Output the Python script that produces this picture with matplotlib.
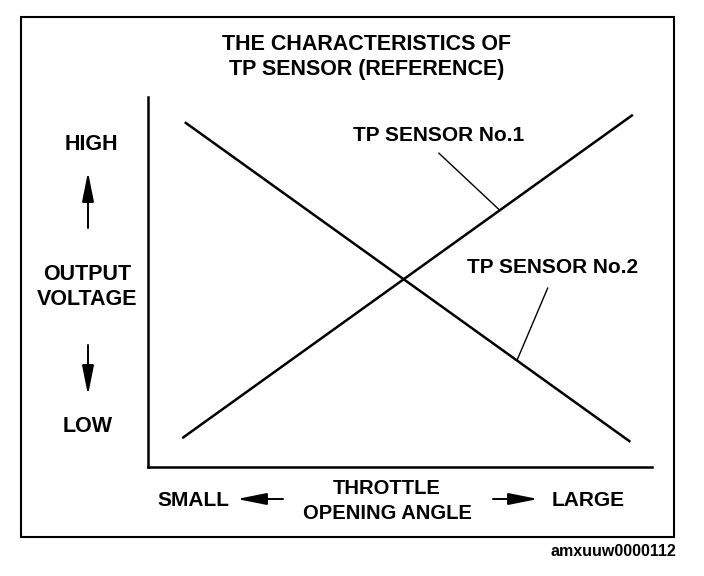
import matplotlib
matplotlib.use("Agg")
import matplotlib.pyplot as plt
import numpy as np
from matplotlib.patches import Rectangle, FancyArrowPatch

plt.rcParams['font.family'] = ['Liberation Sans', 'DejaVu Sans']
plt.rcParams['font.weight'] = 'bold'

# throttle opening angle (relative) vs output voltage (relative)
angle_no1 = [0.7, 9.6]
volt_no1 = [0.8, 9.5]
angle_no2 = [0.75, 9.55]
volt_no2 = [9.3, 0.7]

title_text = "THE CHARACTERISTICS OF\nTP SENSOR (REFERENCE)"
label_no1 = "TP SENSOR No.1"
label_no2 = "TP SENSOR No.2"

fig = plt.figure(figsize=(7.04, 5.76), dpi=100)
ax = fig.add_axes([148/704, 1-467/576, (652-148)/704, (467-97)/576])

ax.plot(angle_no1, volt_no1, color='black', lw=1.8)
ax.plot(angle_no2, volt_no2, color='black', lw=1.8)
ax.set_xlim(0, 10)
ax.set_ylim(0, 10)
ax.set_xticks([])
ax.set_yticks([])
for s in ['top', 'right']:
    ax.spines[s].set_visible(False)
for s in ['left', 'bottom']:
    ax.spines[s].set_linewidth(1.8)

# leader lines
x1 = 6.98
ax.annotate(label_no1, xy=(x1, np.interp(x1, angle_no1, volt_no1)), xytext=(5.76, 8.97),
            ha='center', va='center', fontsize=15,
            arrowprops=dict(arrowstyle='-', lw=1.0, color='black', shrinkA=6, shrinkB=0, relpos=(0.45, 0.0)))
x2 = 7.32
ax.annotate(label_no2, xy=(x2, np.interp(x2, angle_no2, volt_no2)), xytext=(8.02, 5.38),
            ha='center', va='center', fontsize=15,
            arrowprops=dict(arrowstyle='-', lw=1.0, color='black', shrinkA=6, shrinkB=0, relpos=(0.5, 0.0)))

# outer frame
fig.patches.append(Rectangle((21/704, 1-537/576), (674-21)/704, (537-17)/576,
                             transform=fig.transFigure, fill=False, lw=1.5, ec='black'))

def px(x, y):
    return (x/704, 1-y/576)

fig.text(*px(367, 57), title_text, ha='center', va='center', fontsize=15.5, linespacing=1.2)
fig.text(*px(91, 145), "HIGH", ha='center', va='center', fontsize=15.5)
fig.text(*px(87, 287), "OUTPUT\nVOLTAGE", ha='center', va='center', fontsize=15.5, linespacing=1.25)
fig.text(*px(88, 427), "LOW", ha='center', va='center', fontsize=15.5)
fig.text(*px(193, 501), "SMALL", ha='center', va='center', fontsize=15)
fig.text(*px(387, 501), "THROTTLE\nOPENING ANGLE", ha='center', va='center', fontsize=14.5, linespacing=1.35)
fig.text(*px(588, 500), "LARGE", ha='center', va='center', fontsize=15)
fig.text(*px(676, 551), "amxuuw0000112", ha='right', va='center', fontsize=11.5)

arrow = dict(arrowstyle='-|>,head_width=0.18,head_length=0.9', lw=1.4, color='black',
             shrinkA=0, shrinkB=0, mutation_scale=20, transform=fig.transFigure)
fig.add_artist(FancyArrowPatch(px(88, 228), px(88, 172), **arrow))
fig.add_artist(FancyArrowPatch(px(88, 345), px(88, 395), **arrow))
fig.add_artist(FancyArrowPatch(px(283, 499), px(237, 499), **arrow))
fig.add_artist(FancyArrowPatch(px(493, 499), px(538, 499), **arrow))

fig.savefig("out.png", dpi=100)
